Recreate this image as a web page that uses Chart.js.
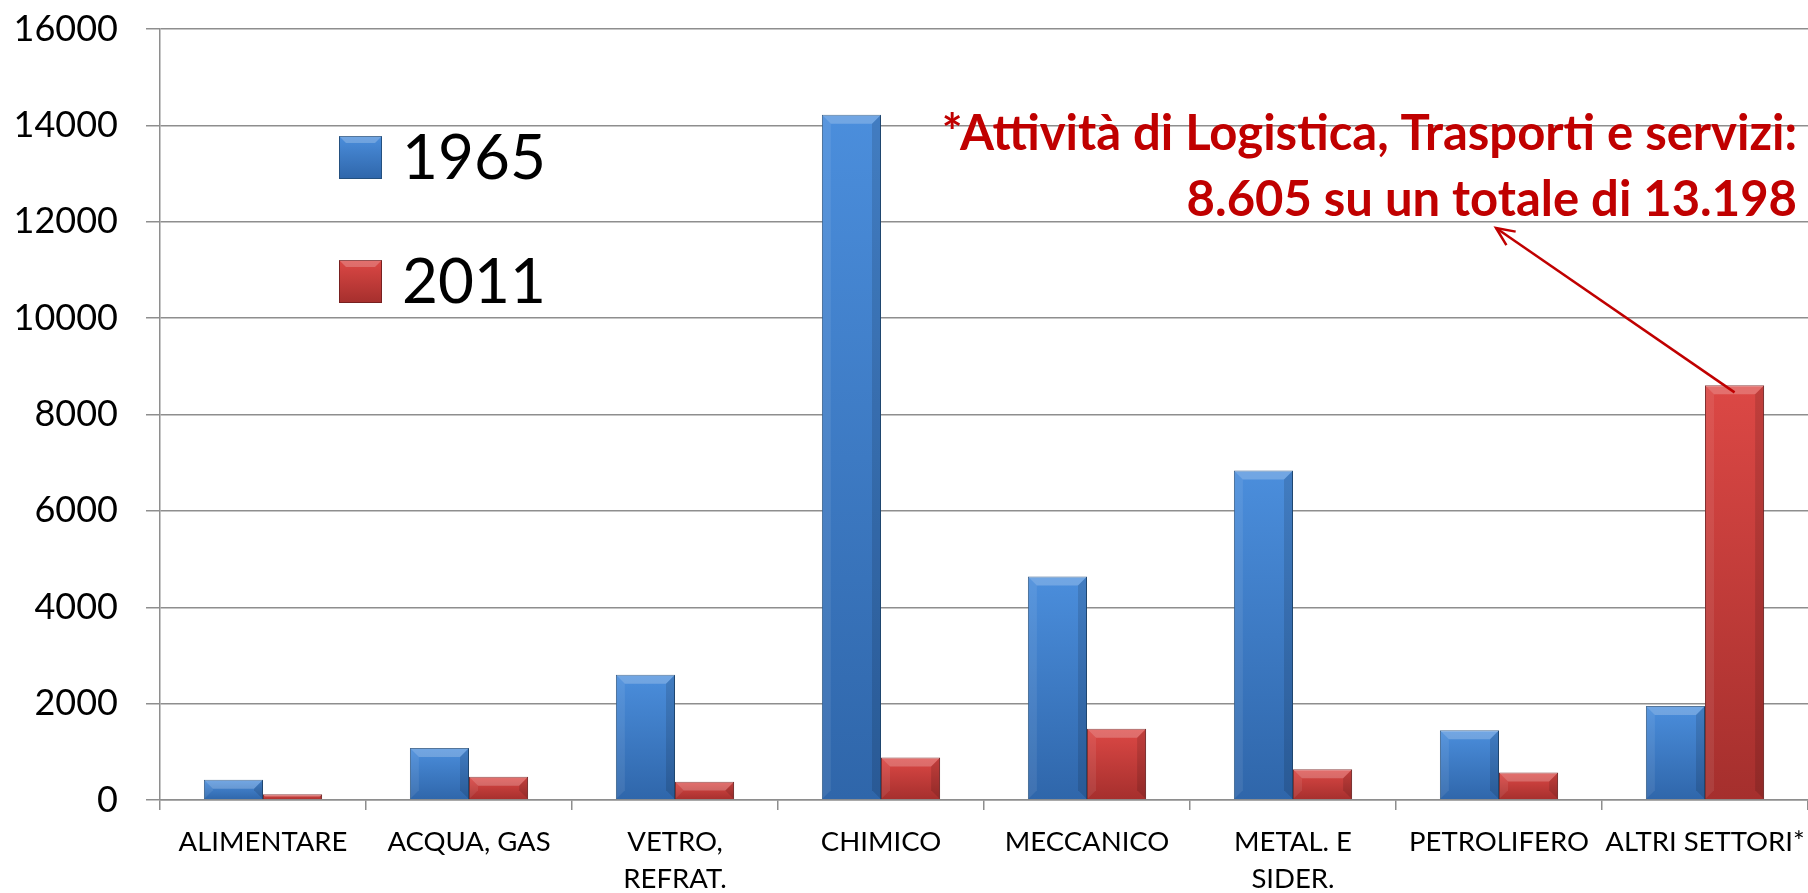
<!DOCTYPE html>
<html>
<head>
<meta charset="utf-8">
<script src="https://cdn.jsdelivr.net/npm/chart.js@4.4.0/dist/chart.umd.min.js"></script>
<style>
  html, body { margin: 0; padding: 0; background: #fff; }
  #wrap { width: 1808px; height: 893px; position: relative; }
</style>
</head>
<body>
<div id="wrap"><canvas id="chart"></canvas></div>
<script>
// Data
const categories = ["ALIMENTARE", "ACQUA, GAS", ["VETRO,", "REFRAT."], "CHIMICO", "MECCANICO", ["METAL. E", "SIDER."], "PETROLIFERO", "ALTRI SETTORI*"];
const seriesNames = ["1965", "2011"];
const values1965 = [420, 1080, 2600, 14220, 4640, 6840, 1450, 1950];
const values2011 = [120, 480, 380, 880, 1480, 640, 570, 8605];
const yMin = 0;
const yMax = 16000;
const yStep = 2000;
const noteLines = ["*Attività di Logistica, Trasporti e servizi:", "8.605 su un totale di 13.198"];
const noteTarget = { dataset: 1, index: 7 };

// Colours
const blue = { top: "#4b8edc", bottom: "#2f66aa", edge: "#24507f" };
const red = { top: "#dc4845", bottom: "#a52f2d", edge: "#782020" };
const noteColor = "#c00000";
const gridColor = "#8e8e8e";
const FONT = "Lato, 'Open Sans', sans-serif";

function barFill(c) {
  return (ctx) => {
    const chart = ctx.chart;
    if (!chart.chartArea || ctx.type !== "data") return c.top;
    const y = chart.scales.y;
    const yTop = y.getPixelForValue(ctx.raw);
    const yBase = y.getPixelForValue(0);
    const g = chart.ctx.createLinearGradient(0, yTop, 0, Math.max(yBase, yTop + 1));
    g.addColorStop(0, c.top);
    g.addColorStop(1, c.bottom);
    return g;
  };
}

// little bevel on each bar (lighter top, darker right side)
const bevelPlugin = {
  id: "bevel",
  afterDatasetsDraw(chart) {
    const ctx = chart.ctx;
    chart.data.datasets.forEach((ds, di) => {
      chart.getDatasetMeta(di).data.forEach((bar) => {
        const p = bar.getProps(["x", "y", "base", "width"], true);
        const l = p.x - p.width / 2, r = p.x + p.width / 2;
        const h = p.base - p.y;
        const b = Math.min(9, h / 2);
        ctx.save();
        ctx.fillStyle = "rgba(255,255,255,0.22)";
        ctx.beginPath();
        ctx.moveTo(l, p.y); ctx.lineTo(r, p.y); ctx.lineTo(r - b, p.y + b); ctx.lineTo(l + b, p.y + b);
        ctx.closePath(); ctx.fill();
        ctx.fillStyle = "rgba(0,0,0,0.12)";
        ctx.beginPath();
        ctx.moveTo(r, p.y); ctx.lineTo(r, p.base); ctx.lineTo(r - b, p.base - b); ctx.lineTo(r - b, p.y + b);
        ctx.closePath(); ctx.fill();
        ctx.fillStyle = "rgba(255,255,255,0.08)";
        ctx.beginPath();
        ctx.moveTo(l, p.y); ctx.lineTo(l + b, p.y + b); ctx.lineTo(l + b, p.base - b); ctx.lineTo(l, p.base);
        ctx.closePath(); ctx.fill();
        ctx.restore();
      });
    });
  }
};

// legend drawn inside the plot area
const legendPlugin = {
  id: "insideLegend",
  afterDraw(chart) {
    const ctx = chart.ctx;
    const colors = [blue, red];
    chart.data.datasets.forEach((ds, i) => {
      const x = 339, y = 136 + i * 124, s = 43;
      const g = ctx.createLinearGradient(0, y, 0, y + s);
      g.addColorStop(0, colors[i].top);
      g.addColorStop(1, colors[i].bottom);
      ctx.save();
      ctx.fillStyle = g;
      ctx.fillRect(x, y, s, s);
      ctx.strokeStyle = colors[i].edge;
      ctx.lineWidth = 1;
      ctx.strokeRect(x + 0.5, y + 0.5, s - 1, s - 1);
      ctx.fillStyle = "rgba(255,255,255,0.22)";
      ctx.beginPath();
      ctx.moveTo(x, y); ctx.lineTo(x + s, y); ctx.lineTo(x + s - 7, y + 7); ctx.lineTo(x + 7, y + 7);
      ctx.closePath(); ctx.fill();
      ctx.fillStyle = "#000";
      ctx.font = "62px " + FONT;
      ctx.textAlign = "left";
      ctx.textBaseline = "middle";
      ctx.fillText(ds.label, 402, y + s / 2 + 1);
      ctx.restore();
    });
  }
};

// red note with arrow to the ALTRI SETTORI 2011 bar
const notePlugin = {
  id: "note",
  afterDraw(chart) {
    const ctx = chart.ctx;
    const bar = chart.getDatasetMeta(noteTarget.dataset).data[noteTarget.index];
    ctx.save();
    ctx.fillStyle = noteColor;
    ctx.font = "bold 49px " + FONT;
    ctx.textAlign = "right";
    ctx.textBaseline = "alphabetic";
    ctx.fillText(noteLines[0], 1797, 150);
    ctx.fillText(noteLines[1], 1797, 216);
    // arrow
    const tx = 1496, ty = 228;
    const fx = bar.x, fy = bar.y + 7;
    ctx.strokeStyle = noteColor;
    ctx.lineWidth = 2.5;
    ctx.beginPath();
    ctx.moveTo(fx, fy);
    ctx.lineTo(tx, ty);
    ctx.stroke();
    const ang = Math.atan2(ty - fy, tx - fx);
    const len = 20, spread = 0.42;
    ctx.beginPath();
    ctx.moveTo(tx - len * Math.cos(ang - spread), ty - len * Math.sin(ang - spread));
    ctx.lineTo(tx, ty);
    ctx.lineTo(tx - len * Math.cos(ang + spread), ty - len * Math.sin(ang + spread));
    ctx.stroke();
    ctx.restore();
  }
};

const ctx = document.getElementById("chart").getContext("2d");
new Chart(ctx, {
  type: "bar",
  data: {
    labels: categories,
    datasets: [
      {
        label: seriesNames[0],
        data: values1965,
        backgroundColor: barFill(blue),
        borderColor: blue.edge,
        borderWidth: 1,
        categoryPercentage: 0.574,
        barPercentage: 1.0,
      },
      {
        label: seriesNames[1],
        data: values2011,
        backgroundColor: barFill(red),
        borderColor: red.edge,
        borderWidth: 1,
        categoryPercentage: 0.574,
        barPercentage: 1.0,
      },
    ],
  },
  options: {
    responsive: true,
    maintainAspectRatio: false,
    animation: false,
    layout: { padding: { top: 29, right: 0, left: 0, bottom: 0 } },
    plugins: {
      legend: { display: false },
      tooltip: { enabled: false },
    },
    scales: {
      x: {
        grid: {
          display: true,
          drawOnChartArea: false,
          drawTicks: true,
          tickLength: 10,
          color: gridColor,
          lineWidth: 1.5,
        },
        border: { display: true, color: gridColor, width: 1.5 },
        ticks: {
          color: "#000",
          font: { family: FONT, size: 27.5, lineHeight: 1.36 },
          padding: 13,
          maxRotation: 0,
          autoSkip: false,
        },
        afterFit(scale) {
          scale.height = 93;
          scale.paddingLeft = 0;
          scale.paddingRight = 0;
        },
      },
      y: {
        min: yMin,
        max: yMax,
        grid: {
          color: gridColor,
          lineWidth: 1.5,
          tickLength: 14,
        },
        border: { display: true, color: gridColor, width: 1.5 },
        ticks: {
          stepSize: yStep,
          color: "#000",
          font: { family: FONT, size: 36 },
          padding: 28,
          callback: (v) => String(v),
        },
        afterFit(scale) {
          scale.width = 160;
          scale.paddingTop = 0;
          scale.paddingBottom = 0;
        },
      },
    },
  },
  plugins: [bevelPlugin, legendPlugin, notePlugin],
});
</script>
</body>
</html>
